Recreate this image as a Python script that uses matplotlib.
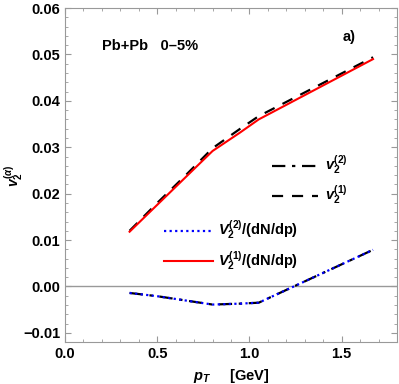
import numpy as np
import matplotlib
matplotlib.use("Agg")
import matplotlib.pyplot as plt
from matplotlib.ticker import MultipleLocator

plt.rcParams['font.family'] = ['Liberation Sans', 'DejaVu Sans']
plt.rcParams['font.weight'] = 'bold'
plt.rcParams['mathtext.fontset'] = 'custom'
plt.rcParams['mathtext.rm'] = 'Liberation Sans:bold'
plt.rcParams['mathtext.it'] = 'Liberation Sans:bold:italic'
plt.rcParams['mathtext.bf'] = 'Liberation Sans:bold'

# upper curves
pt_up = [0.35, 0.5, 0.65, 0.8, 0.95, 1.05, 1.67]
v2_1 = [0.0120, 0.0180, 0.0238, 0.0298, 0.0340, 0.0367, 0.0494]
v2_1_dn = [0.0118, 0.0176, 0.0234, 0.0292, 0.0332, 0.0360, 0.0490]

# lower curves
pt_lo = [0.35, 0.5, 0.65, 0.8, 0.95, 1.05, 1.67]
v2_2 = [-0.0014, -0.0021, -0.0030, -0.0039, -0.0037, -0.0035, 0.0079]
v2_2_dn = [-0.0014, -0.0021, -0.0030, -0.0039, -0.0037, -0.0035, 0.0079]

fig = plt.figure(figsize=(3.99, 3.84), dpi=100)
ax = fig.add_axes([0.163, 0.109, 0.832, 0.870])

ax.axhline(0, color='#999999', lw=1.0, zorder=1)

l_dd, = ax.plot(pt_lo, v2_2, color='black', lw=1.6, ls=(0, (6, 3, 1.5, 3)), zorder=2)
l_blue, = ax.plot(pt_lo, v2_2_dn, color='blue', lw=1.6, ls=(0, (1, 1.5)), zorder=3)
l_red, = ax.plot(pt_up, v2_1_dn, color='red', lw=1.5, zorder=3)
l_d, = ax.plot(pt_up, v2_1, color='black', lw=1.6, ls=(0, (5, 4)), zorder=2)

ax.set_xlim(0, 1.8)
ax.set_ylim(-0.012, 0.06)
ax.xaxis.set_major_locator(MultipleLocator(0.5))
ax.xaxis.set_minor_locator(MultipleLocator(0.1))
ax.yaxis.set_major_locator(MultipleLocator(0.01))
ax.yaxis.set_minor_locator(MultipleLocator(0.002))
ax.xaxis.set_major_formatter(matplotlib.ticker.FormatStrFormatter('%.1f'))
ax.yaxis.set_major_formatter(matplotlib.ticker.FuncFormatter(
    lambda v, p: ('\u2212' if v < -1e-9 else '') + '%.2f' % abs(v)))
ax.tick_params(which='both', direction='in', top=True, right=True, color='#999999',
               labelsize=10.5, labelcolor='black')
ax.tick_params(which='major', length=4, width=0.8)
ax.tick_params(which='minor', length=2.2, width=0.6)
for lab in ax.get_xticklabels() + ax.get_yticklabels():
    lab.set_fontweight('bold')
for s in ax.spines.values():
    s.set_color('#999999')
    s.set_linewidth(0.8)

ax.set_xlabel(r'$p_T$     [GeV]', fontsize=10.5, fontweight='bold', labelpad=4)
fig.text(14 / 399, 1 - 176 / 384, r'$v_2^{(\alpha)}$', fontsize=10, rotation=90,
         ha='center', va='center')

ax.text(0.11, 0.885, 'Pb+Pb   0\u20135%', transform=ax.transAxes, fontsize=10.5,
        fontweight='bold', va='center')
ax.text(0.835, 0.912, 'a)', transform=ax.transAxes, fontsize=10.5, fontweight='bold',
        va='center')

leg1 = ax.legend([l_dd, l_d], [r'$v_2^{(2)}$', r'$v_2^{(1)}$'], loc='upper left',
                 bbox_to_anchor=(0.6, 0.585), frameon=False, handlelength=3.2,
                 fontsize=10.5, labelspacing=0.45, borderpad=0, handletextpad=0.5)
ax.add_artist(leg1)
ax.legend([l_blue, l_red], [r'$V_2^{(2)}$/(dN/dp)', r'$V_2^{(1)}$/(dN/dp)'],
          loc='upper left', bbox_to_anchor=(0.275, 0.39), frameon=False,
          handlelength=3.4, fontsize=10.5, labelspacing=0.5, borderpad=0,
          handletextpad=0.35)

fig.savefig('out.png', dpi=100)
